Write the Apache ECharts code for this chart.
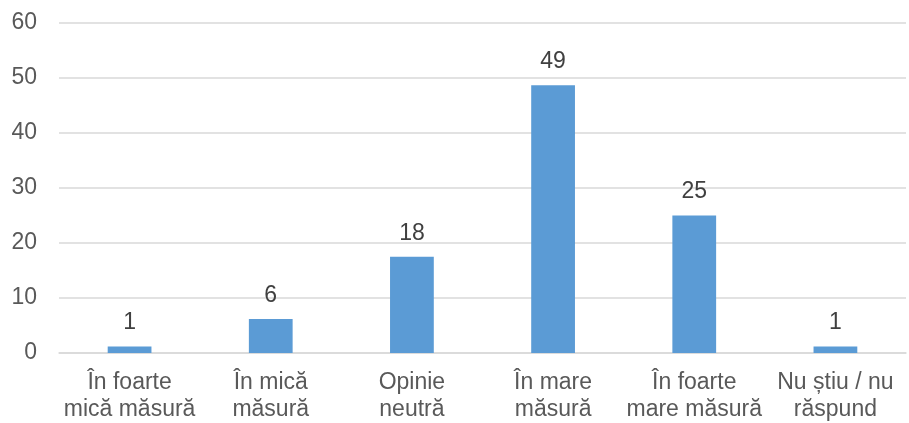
<!DOCTYPE html>
<html>
<head>
<meta charset="utf-8">
<script src="https://cdn.jsdelivr.net/npm/echarts@6/dist/echarts.min.js"></script>
<style>
html,body{margin:0;padding:0;background:#fff;}
#chart{width:909px;height:423px;}
</style>
</head>
<body>
<div id="chart"></div>
<script>
var categories = ["În foarte\nmică măsură", "În mică\nmăsură", "Opinie\nneutră", "În mare\nmăsură", "În foarte\nmare măsură", "Nu știu / nu\nrăspund"];
var values = [1.2, 6.2, 17.5, 48.7, 25.0, 1.2];
var yTicks = { min: 0, max: 60, interval: 10 };

var chart = echarts.init(document.getElementById('chart'), null, { renderer: 'canvas' });
var font = 'Liberation Sans, Arial, sans-serif';
chart.setOption({
  animation: false,
  grid: { left: 59, right: 3, top: 23, bottom: 70, containLabel: false },
  xAxis: {
    type: 'category',
    data: categories,
    axisLine: { show: true, lineStyle: { color: '#D9D9D9', width: 1.5 } },
    axisTick: { show: false },
    axisLabel: {
      interval: 0,
      color: '#595959',
      fontFamily: font,
      fontSize: 23,
      lineHeight: 27,
      margin: 16
    }
  },
  yAxis: {
    type: 'value',
    min: yTicks.min,
    max: yTicks.max,
    interval: yTicks.interval,
    axisLine: { show: false },
    axisTick: { show: false },
    splitLine: { lineStyle: { color: '#D9D9D9', width: 1.5 } },
    axisLabel: {
      color: '#595959',
      fontFamily: font,
      fontSize: 23,
      margin: 22
    }
  },
  series: [{
    type: 'bar',
    data: values,
    barWidth: '31%',
    itemStyle: { color: '#5B9BD5' },
    label: {
      show: true,
      position: 'top',
      distance: 12,
      color: '#404040',
      fontFamily: font,
      fontSize: 23,
      lineHeight: 23,
      formatter: function (p) { return Math.round(p.value); }
    }
  }]
});
</script>
</body>
</html>
